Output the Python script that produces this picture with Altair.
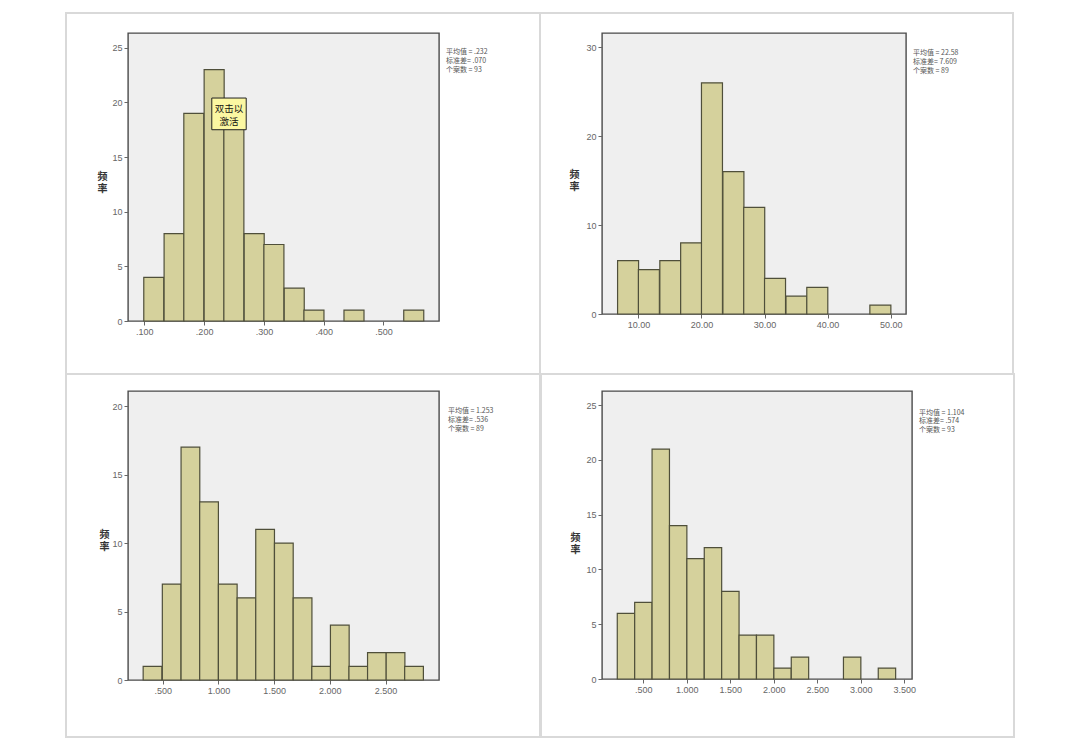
import altair as alt
import pandas as pd

# ---------------- data ----------------
# Panel 1 (top-left)
p1_starts = [0.099, 0.133, 0.166, 0.200, 0.233, 0.267, 0.300, 0.334, 0.367, 0.434, 0.534]
p1_counts = [4, 8, 19, 23, 18, 8, 7, 3, 1, 1, 1]
p1_binw = 0.0335
p1_xticks = [0.1, 0.2, 0.3, 0.4, 0.5]
p1_yticks = [0, 5, 10, 15, 20, 25]
p1_stats = ["平均值 = .232", "标准差= .070", "个案数 = 93"]

# Panel 2 (top-right)
p2_starts = [6.7, 10.0, 13.4, 16.7, 20.0, 23.4, 26.7, 30.0, 33.4, 36.7, 46.7]
p2_counts = [6, 5, 6, 8, 26, 16, 12, 4, 2, 3, 1]
p2_binw = 3.33
p2_xticks = [10, 20, 30, 40, 50]
p2_yticks = [0, 10, 20, 30]
p2_stats = ["平均值 = 22.58", "标准差= 7.609", "个案数 = 89"]

# Panel 3 (bottom-left)
p3_starts = [0.325, 0.497, 0.665, 0.832, 1.0, 1.168, 1.335, 1.503, 1.671, 1.838,
             2.005, 2.171, 2.338, 2.505, 2.671]
p3_counts = [1, 7, 17, 13, 7, 6, 11, 10, 6, 1, 4, 1, 2, 2, 1]
p3_binw = 0.168
p3_xticks = [0.5, 1.0, 1.5, 2.0, 2.5]
p3_yticks = [0, 5, 10, 15, 20]
p3_stats = ["平均值 = 1.253", "标准差= .536", "个案数 = 89"]

# Panel 4 (bottom-right)
p4_starts = [0.2, 0.4, 0.6, 0.8, 1.0, 1.2, 1.4, 1.6, 1.8, 2.0, 2.2, 2.8, 3.2]
p4_counts = [6, 7, 21, 14, 11, 12, 8, 4, 4, 1, 2, 2, 1]
p4_binw = 0.2
p4_xticks = [0.5, 1.0, 1.5, 2.0, 2.5, 3.0, 3.5]
p4_yticks = [0, 5, 10, 15, 20, 25]
p4_stats = ["平均值 = 1.104", "标准差= .574", "个案数 = 93"]

# tooltip artefact in panel 1
tip_box = [{"x": 0.2128, "x2": 0.2704, "y": 17.5, "y2": 20.4}]
tip_lines = ["双击以", "激活"]
tip_line_y = [19.4, 18.25]
tip_x = 0.2416

y_title = ["频", "率"]

BAR_FILL = "#D5D19C"
BAR_STROKE = "#4f4f3a"
CARD = "#d9d9d9"
LABEL_FONT = "Liberation Sans"
CJK = "Noto Sans CJK SC"

DEC3 = "datum.value < 1 ? substring(format(datum.value, '.3f'), 1) : format(datum.value, '.3f')"
DEC2 = "format(datum.value, '.2f')"


def panel(starts, counts, binw, xdom, ydom, xticks, yticks, label_expr,
          w, h, stats, title_xy, stats_xy, card, extra=None):
    df = pd.DataFrame({"start": starts, "count": counts})
    df["end"] = df["start"] + binw
    df["zero"] = 0

    card_layer = alt.Chart(alt.Data(values=[{"k": 1}])).mark_rect(
        fill="transparent", stroke=CARD, strokeWidth=2
    ).encode(
        x=alt.value(card[0]), x2=alt.value(card[1]),
        y=alt.value(card[2]), y2=alt.value(card[3]),
    )

    bars = alt.Chart(df).mark_rect(
        fill=BAR_FILL, stroke=BAR_STROKE, strokeWidth=1.2
    ).encode(
        x=alt.X("start:Q",
                scale=alt.Scale(domain=xdom, nice=False, zero=False),
                axis=alt.Axis(values=xticks, labelExpr=label_expr, title=None,
                              labelFlush=False)),
        x2="end:Q",
        y=alt.Y("count:Q",
                scale=alt.Scale(domain=ydom, nice=False),
                axis=alt.Axis(values=yticks, title=y_title, titleAngle=0,
                              titleX=title_xy[0], titleY=title_xy[1],
                              titleAlign="center", titleBaseline="middle",
                              titleFont=CJK, titleFontSize=10,
                              titleFontWeight="bold", titleColor="#333333",
                              titleLineHeight=12, labelFlush=False)),
        y2="zero:Q",
    )

    stats_layer = alt.Chart(alt.Data(values=[{"k": 1}])).mark_text(
        align="left", baseline="top", fontSize=7, lineHeight=8.8,
        font=CJK, color="#555555", text=stats
    ).encode(x=alt.value(stats_xy[0]), y=alt.value(stats_xy[1]))

    layers = [card_layer, bars, stats_layer]
    if extra is not None:
        layers += extra
    return alt.layer(*layers).properties(width=w, height=h)


tip_rect = alt.Chart(alt.Data(values=tip_box)).mark_rect(
    fill="#FBF7A2", stroke="#222222", strokeWidth=1
).encode(x="x:Q", x2="x2:Q", y="y:Q", y2="y2:Q")

tip_df = pd.DataFrame({"t": tip_lines, "y": tip_line_y, "x": [tip_x] * len(tip_lines)})
tip_text = alt.Chart(tip_df).mark_text(
    font=CJK, fontSize=9.5, color="#111111", baseline="middle", align="center"
).encode(x="x:Q", y="y:Q", text="t:N")

p1 = panel(p1_starts, p1_counts, p1_binw, [0.0726, 0.593], [0, 26.35],
           p1_xticks, p1_yticks, DEC3, 311, 288, p1_stats,
           (-26, 143), (318, 15), (-62, 412, -20, 341),
           extra=[tip_rect, tip_text])
p2 = panel(p2_starts, p2_counts, p2_binw, [4.23, 52.43], [0, 31.6],
           p2_xticks, p2_yticks, DEC2, 304, 281, p2_stats,
           (-28, 141), (311, 16), (-62, 411, -20, 341))
p3 = panel(p3_starts, p3_counts, p3_binw, [0.189, 2.979], [0, 21.1],
           p3_xticks, p3_yticks, DEC3, 311, 289, p3_stats,
           (-24, 143), (320, 16), (-62, 412, -17, 346))
p4 = panel(p4_starts, p4_counts, p4_binw, [0.0244, 3.588], [0, 26.3],
           p4_xticks, p4_yticks, DEC3, 310, 288, p4_stats,
           (-27, 146), (317, 17.5), (-61, 412, -17, 346))

chart = alt.concat(
    p1, p2, p3, p4, columns=2,
    spacing={"row": 70, "column": 163}, bounds="flush",
).properties(
    padding={"left": 64, "top": 11, "right": 5, "bottom": 5},
    background="white",
).configure_view(
    fill="#EFEFEF", stroke="#4a4a4a", strokeWidth=1.4
).configure_axis(
    grid=False, domain=False, labelFont=LABEL_FONT, labelFontSize=9,
    labelColor="#666666", tickColor="#666666", tickSize=4, labelPadding=2,
)

chart.save("out.html", embed_options={"renderer": "svg", "actions": False})
